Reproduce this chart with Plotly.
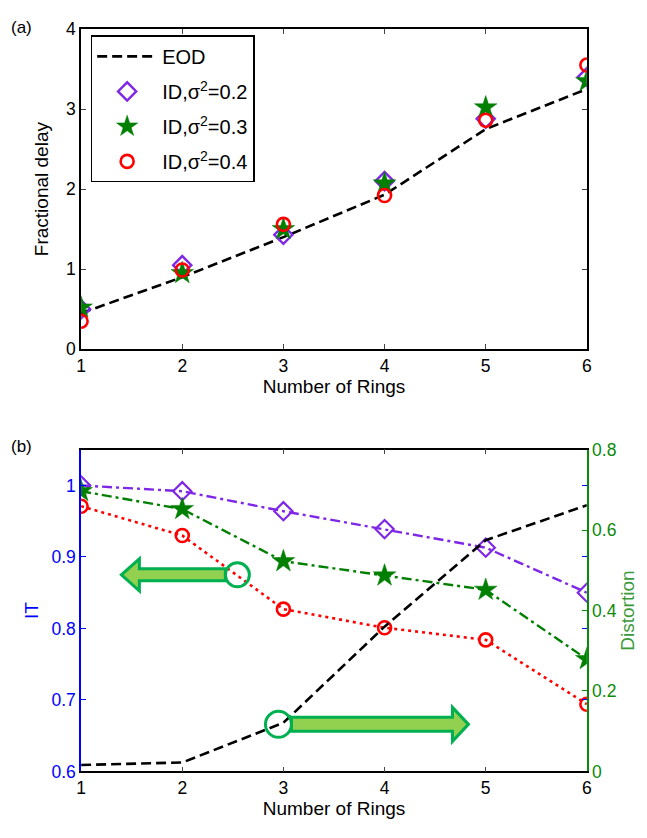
import plotly.graph_objects as go

# ---------------- data ----------------
rings = [1, 2, 3, 4, 5, 6]

# (a) fractional delay
eod_delay = [0.45, 0.90, 1.40, 1.93, 2.75, 3.25]
id02_delay = [0.50, 1.05, 1.43, 2.10, 2.88, 3.40]
id03_delay = [0.52, 0.95, 1.50, 2.07, 3.02, 3.35]
id04_delay = [0.35, 0.99, 1.56, 1.92, 2.86, 3.55]

# (b) IT (left axis) and distortion (right axis)
id02_it = [1.000, 0.992, 0.964, 0.939, 0.913, 0.850]
id03_it = [0.992, 0.967, 0.894, 0.874, 0.854, 0.757]
id04_it = [0.971, 0.930, 0.827, 0.801, 0.784, 0.694]
eod_distortion = [0.016, 0.022, 0.121, 0.360, 0.575, 0.662]

x_ticks = [1, 2, 3, 4, 5, 6]
delay_ticks = [0, 1, 2, 3, 4]
it_ticks = [0.6, 0.7, 0.8, 0.9, 1.0]
it_ticktext = ["0.6", "0.7", "0.8", "0.9", "1"]
dist_ticks = [0, 0.2, 0.4, 0.6, 0.8]
dist_ticktext = ["0", "0.2", "0.4", "0.6", "0.8"]

legend_names = ["EOD", "ID,σ<sup>2</sup>=0.2", "ID,σ<sup>2</sup>=0.3", "ID,σ<sup>2</sup>=0.4"]

# ---------------- style ----------------
W, H = 647, 838
FONT = "Liberation Sans, Arial, sans-serif"
PURPLE = "#7f27e6"
GREEN = "#007f00"
RED = "#ff0000"
BLUE = "#0000ff"
AXGREEN = "#0a8a0a"
ARROW_EDGE = "#00b050"
ARROW_FILL = "#92d050"
TICK_SIZE = 17.5
TITLE_SIZE = 19

def px_x(p):
    return p / W

def px_y(p):
    return 1 - p / H

x_dom = [px_x(77.3), px_x(591)]
top_dom = [px_y(347.5), px_y(19.5)]
bot_dom = [px_y(780), px_y(450.5)]

fig = go.Figure()

# ---- panel (a) ----
fig.add_trace(go.Scatter(x=rings, y=eod_delay, mode="lines", name=legend_names[0],
                         legendgroup="g0",
                         line=dict(color="black", width=2.6, dash="10px,5px"),
                         xaxis="x", yaxis="y"))
fig.add_trace(go.Scatter(x=rings, y=id02_delay, mode="markers", name=legend_names[1],
                         legendgroup="g1",
                         marker=dict(symbol="diamond-open", size=14, color=PURPLE,
                                     line=dict(width=2.4, color=PURPLE)),
                         xaxis="x", yaxis="y"))
fig.add_trace(go.Scatter(x=rings, y=id03_delay, mode="markers", name=legend_names[2],
                         legendgroup="g2",
                         marker=dict(symbol="star", size=17, color=GREEN,
                                     line=dict(width=0.5, color=GREEN)),
                         xaxis="x", yaxis="y"))
fig.add_trace(go.Scatter(x=rings, y=id04_delay, mode="markers", name=legend_names[3],
                         legendgroup="g3",
                         marker=dict(symbol="circle-open", size=13, color=RED,
                                     line=dict(width=2.6, color=RED)),
                         xaxis="x", yaxis="y"))

# ---- panel (b) ----
fig.add_trace(go.Scatter(x=rings, y=id02_it, mode="lines+markers", showlegend=False,
                         line=dict(color=PURPLE, width=2.4, dash="10px,4px,3px,4px"),
                         marker=dict(symbol="diamond-open", size=14, color=PURPLE,
                                     line=dict(width=2.2, color=PURPLE)),
                         xaxis="x2", yaxis="y2"))
fig.add_trace(go.Scatter(x=rings, y=id03_it, mode="lines+markers", showlegend=False,
                         line=dict(color=GREEN, width=2.4, dash="10px,4px,3px,4px"),
                         marker=dict(symbol="star", size=17, color=GREEN,
                                     line=dict(width=0.5, color=GREEN)),
                         xaxis="x2", yaxis="y2"))
fig.add_trace(go.Scatter(x=rings, y=id04_it, mode="lines+markers", showlegend=False,
                         line=dict(color=RED, width=2.6, dash="3px,4px"),
                         marker=dict(symbol="circle-open", size=13, color=RED,
                                     line=dict(width=2.6, color=RED)),
                         xaxis="x2", yaxis="y2"))
fig.add_trace(go.Scatter(x=rings, y=eod_distortion, mode="lines", showlegend=False,
                         line=dict(color="black", width=2.6, dash="10px,5px"),
                         xaxis="x2", yaxis="y3"))
# carrier for the blue IT ticks mirrored on the right edge
fig.add_trace(go.Scatter(x=[], y=[], showlegend=False, hoverinfo="skip",
                         xaxis="x2", yaxis="y4"))

tickfont = dict(family=FONT, size=TICK_SIZE, color="black")
common_x = dict(domain=x_dom, range=[1, 6], tickvals=x_ticks, ticks="inside", ticklen=5,
                showline=True, linecolor="black", linewidth=1.5, mirror="ticks",
                showgrid=False, zeroline=False, tickfont=tickfont,
                title=dict(text="Number of Rings", font=dict(family=FONT, size=TITLE_SIZE),
                           standoff=4))

fig.update_layout(
    width=W, height=H,
    margin=dict(l=0, r=0, t=0, b=0),
    paper_bgcolor="white", plot_bgcolor="white",
    font=dict(family=FONT, size=TICK_SIZE, color="black"),
    xaxis=dict(anchor="y", **common_x),
    yaxis=dict(domain=top_dom, range=[0, 4], tickvals=delay_ticks, ticks="inside", ticklen=5,
               showline=True, linecolor="black", linewidth=1.5, mirror="ticks",
               showgrid=False, zeroline=False, tickfont=tickfont, anchor="x",
               title=dict(text="Fractional delay", font=dict(family=FONT, size=TITLE_SIZE),
                          standoff=12)),
    xaxis2=dict(anchor="y2", **common_x),
    yaxis2=dict(domain=bot_dom, range=[0.6, 1.05], tickvals=it_ticks, ticktext=it_ticktext,
                ticks="inside", ticklen=5, tickcolor=BLUE,
                showline=True, linecolor=BLUE, linewidth=1.5, mirror=False,
                showgrid=False, zeroline=False, anchor="x2",
                tickfont=dict(family=FONT, size=TICK_SIZE, color=BLUE),
                title=dict(text="IT", font=dict(family=FONT, size=TITLE_SIZE, color=BLUE),
                           standoff=8)),
    yaxis3=dict(overlaying="y2", side="right", anchor="x2", range=[0, 0.8],
                tickvals=dist_ticks, ticktext=dist_ticktext,
                ticks="inside", ticklen=5, tickcolor=AXGREEN,
                showline=True, linecolor=AXGREEN, linewidth=1.5,
                showgrid=False, zeroline=False,
                tickfont=dict(family=FONT, size=TICK_SIZE, color=AXGREEN),
                title=dict(text="Distortion",
                           font=dict(family=FONT, size=TITLE_SIZE, color="#3a9a3a"),
                           standoff=4)),
    yaxis4=dict(overlaying="y2", side="right", anchor="x2", range=[0.6, 1.05],
                tickvals=it_ticks, ticks="inside", ticklen=5, tickcolor=BLUE,
                showticklabels=False, showline=False, showgrid=False, zeroline=False),
    legend=dict(x=px_x(87), y=px_y(26), xanchor="left", yanchor="top",
                bgcolor="white", bordercolor="black", borderwidth=1.5,
                font=dict(family=FONT, size=20, color="black"),
                itemwidth=60, tracegroupgap=6),
    showlegend=True,
)

# panel letters
fig.add_annotation(text="(a)", x=px_x(4), y=px_y(18), xref="paper", yref="paper",
                   xanchor="left", yanchor="middle", showarrow=False,
                   font=dict(family=FONT, size=17))
fig.add_annotation(text="(b)", x=px_x(4), y=px_y(447), xref="paper", yref="paper",
                   xanchor="left", yanchor="middle", showarrow=False,
                   font=dict(family=FONT, size=17))

# block arrows pointing at the axis each curve group belongs to
def block_arrow(xa, ya, yref, start, tip, half_body, half_head, head_len, radius):
    sgn = 1 if tip > start else -1
    neck = tip - sgn * head_len
    path = (f"M {start},{half_body} L {neck},{half_body} L {neck},{half_head} "
            f"L {tip},0 L {neck},{-half_head} L {neck},{-half_body} L {start},{-half_body} Z")
    fig.add_shape(type="path", path=path, xref="x2", yref=yref,
                  xsizemode="pixel", ysizemode="pixel", xanchor=xa, yanchor=ya,
                  fillcolor=ARROW_FILL, line=dict(color=ARROW_EDGE, width=3), layer="above")
    fig.add_shape(type="circle", xref="x2", yref=yref,
                  xsizemode="pixel", ysizemode="pixel", xanchor=xa, yanchor=ya,
                  x0=-radius, x1=radius, y0=-radius, y1=radius,
                  line=dict(color=ARROW_EDGE, width=3), layer="above")

block_arrow(2.545, 0.875, "y2", start=-12, tip=-116, half_body=6, half_head=16,
            head_len=18, radius=12)
block_arrow(2.951, 0.117, "y3", start=13, tip=190, half_body=7, half_head=17,
            head_len=16, radius=13)

fig.write_html("out.html")
